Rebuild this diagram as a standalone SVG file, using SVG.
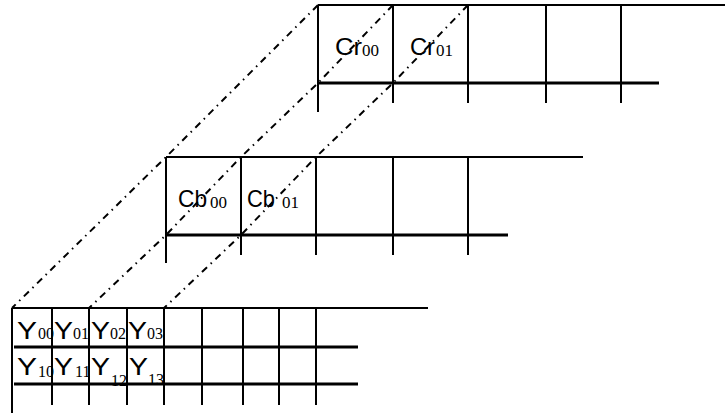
<svg xmlns="http://www.w3.org/2000/svg" width="725" height="414" viewBox="0 0 725 414">
<style>
.thin{stroke:#000;stroke-width:2;fill:none}
.thick{stroke:#000;stroke-width:3;fill:none}
.dash{stroke:#000;stroke-width:2;fill:none;stroke-dasharray:7 5 1.5 5}
.lab{font-family:"Liberation Sans",Arial,sans-serif;font-size:24px;fill:#000}
.sub{font-family:"Liberation Serif","Times New Roman",serif;font-size:17px;fill:#000}
.ylab{font-family:"Liberation Sans",Arial,sans-serif;font-size:23px;fill:#000}
.ysub{font-family:"Liberation Serif","Times New Roman",serif;font-size:16px;fill:#000}
</style>
<rect width="725" height="414" fill="#fff"/>
<g id="cr-plane">
<line class="thin" x1="318" y1="5" x2="725" y2="5"/>
<line class="thick" x1="318" y1="83" x2="659" y2="83"/>
<line class="thin" x1="318" y1="5" x2="318" y2="112"/>
<line class="thin" x1="393" y1="5" x2="393" y2="103"/>
<line class="thin" x1="468" y1="5" x2="468" y2="103"/>
<line class="thin" x1="546" y1="5" x2="546" y2="103"/>
<line class="thin" x1="621" y1="5" x2="621" y2="103"/>
<text class="lab" x="335" y="55" textLength="27" lengthAdjust="spacingAndGlyphs">Cr</text><text class="sub" x="362" y="56">00</text>
<text class="lab" x="410" y="55" textLength="25" lengthAdjust="spacingAndGlyphs">Cr</text><text class="sub" x="436" y="56">01</text>
</g>
<g id="cb-plane">
<line class="thin" x1="166" y1="157" x2="583" y2="157"/>
<line class="thick" x1="166" y1="235" x2="508" y2="235"/>
<line class="thin" x1="166" y1="157" x2="166" y2="263"/>
<line class="thin" x1="241" y1="157" x2="241" y2="255"/>
<line class="thin" x1="316" y1="157" x2="316" y2="255"/>
<line class="thin" x1="393" y1="157" x2="393" y2="255"/>
<line class="thin" x1="468" y1="157" x2="468" y2="255"/>
<text class="lab" x="178" y="207" textLength="29" lengthAdjust="spacingAndGlyphs">Cb</text><text class="sub" x="210" y="208" font-size="16">00</text>
<text class="lab" x="247" y="207" textLength="28" lengthAdjust="spacingAndGlyphs">Cb</text><text class="sub" x="282" y="208" font-size="16">01</text>
</g>
<g id="y-plane">
<line class="thin" x1="12" y1="308" x2="428" y2="308"/>
<line class="thick" x1="14" y1="347" x2="358" y2="347"/>
<line class="thick" x1="14" y1="384" x2="358" y2="384"/>
<line class="thin" x1="12" y1="308" x2="12" y2="413"/>
<line class="thin" x1="52" y1="308" x2="52" y2="405"/>
<line class="thin" x1="89" y1="308" x2="89" y2="405"/>
<line class="thin" x1="127" y1="308" x2="127" y2="405"/>
<line class="thin" x1="164" y1="308" x2="164" y2="405"/>
<line class="thin" x1="202" y1="308" x2="202" y2="405"/>
<line class="thin" x1="243" y1="308" x2="243" y2="405"/>
<line class="thin" x1="279" y1="308" x2="279" y2="405"/>
<line class="thin" x1="316" y1="308" x2="316" y2="405"/>
<text class="ylab" x="17" y="339" textLength="20" lengthAdjust="spacingAndGlyphs">Y</text><text class="ysub" x="38" y="339">00</text>
<text class="ylab" x="54" y="339" textLength="19" lengthAdjust="spacingAndGlyphs">Y</text><text class="ysub" x="73" y="339">01</text>
<text class="ylab" x="91" y="339" textLength="19" lengthAdjust="spacingAndGlyphs">Y</text><text class="ysub" x="110" y="339">02</text>
<text class="ylab" x="128" y="339" textLength="19" lengthAdjust="spacingAndGlyphs">Y</text><text class="ysub" x="147" y="339">03</text>
<text class="ylab" x="17" y="375" textLength="20" lengthAdjust="spacingAndGlyphs">Y</text><text class="ysub" x="38" y="377">10</text>
<text class="ylab" x="54" y="375" textLength="19" lengthAdjust="spacingAndGlyphs">Y</text><text class="ysub" x="75" y="377">11</text>
<text class="ylab" x="91" y="375" textLength="19" lengthAdjust="spacingAndGlyphs">Y</text><text class="ysub" x="111" y="386">12</text>
<text class="ylab" x="129" y="375" textLength="19" lengthAdjust="spacingAndGlyphs">Y</text><text class="ysub" x="148" y="385">13</text>
</g>
<g id="connectors">
<polyline class="dash" points="318,5 166,157 12,308"/>
<polyline class="dash" points="393,5 318,83 241,157 166,235 89,308"/>
<polyline class="dash" points="468,5 393,83 316,157 241,235 164,308"/>
</g>
</svg>
